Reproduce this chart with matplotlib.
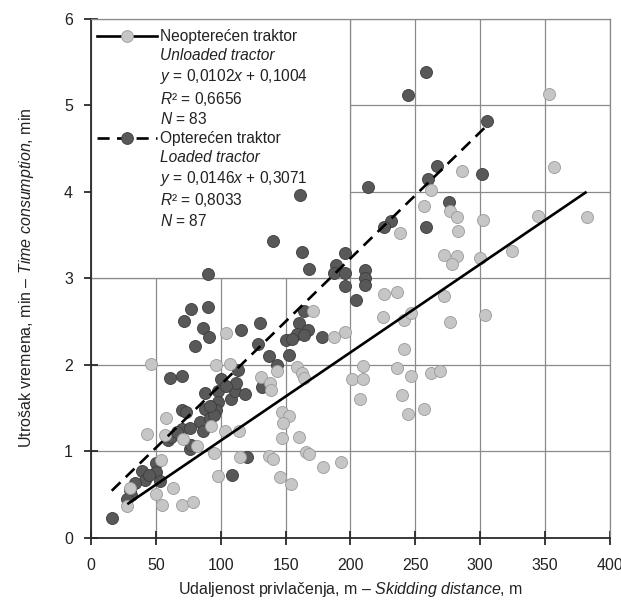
import matplotlib
matplotlib.use("Agg")
import matplotlib.pyplot as plt
from matplotlib.lines import Line2D
from matplotlib.patches import Rectangle
import numpy as np

plt.rcParams["font.family"] = ["Liberation Sans", "DejaVu Sans"]
plt.rcParams["mathtext.fontset"] = "custom"
plt.rcParams["mathtext.it"] = "Liberation Sans:italic"
plt.rcParams["mathtext.rm"] = "Liberation Sans"

# unloaded tractor (light points)
unloaded_x = [104, 46, 96, 107, 58, 43, 57, 71, 82, 92.5, 103, 95, 54, 98, 30, 63, 50, 28, 55, 70, 79,
              171, 196, 187, 131, 138, 139, 143, 159, 163, 164, 210, 201, 210, 207, 114, 147, 153, 148,
              147, 160, 115, 137, 140, 166, 168, 179, 193, 146, 154,
              353, 357, 286, 262, 257, 277, 282, 302, 344.5, 382, 238, 283, 272, 282, 278, 300, 324.5,
              226, 236, 272, 225, 241, 247, 277, 304, 241, 236, 247, 262, 269, 240, 244, 257]
unloaded_y = [2.36, 2.01, 1.99, 2.01, 1.38, 1.20, 1.18, 1.14, 1.06, 1.29, 1.23, 0.98, 0.90, 0.71, 0.57,
              0.57, 0.50, 0.37, 0.38, 0.38, 0.41,
              2.62, 2.38, 2.32, 1.86, 1.79, 1.71, 1.92, 1.97, 1.90, 1.84, 1.98, 1.83, 1.83, 1.60, 1.23,
              1.45, 1.40, 1.32, 1.15, 1.16, 0.93, 0.94, 0.91, 0.99, 0.96, 0.82, 0.87, 0.70, 0.62,
              5.13, 4.28, 4.24, 4.02, 3.83, 3.77, 3.70, 3.67, 3.72, 3.70, 3.52, 3.54, 3.27, 3.25, 3.16,
              3.23, 3.31, 2.82, 2.84, 2.79, 2.55, 2.51, 2.60, 2.49, 2.57, 2.18, 1.96, 1.87, 1.90, 1.92,
              1.65, 1.43, 1.49]

# loaded tractor (dark points)
loaded_x = [90, 77, 90, 72, 86, 91, 80, 61, 70, 100, 88, 98, 98, 108, 111, 88, 96, 70, 73, 84, 92, 94.5,
            70, 76.5, 86, 59, 62, 76, 77, 50, 39, 50, 42, 53, 34, 30, 31, 28, 16, 109,
            161, 213.5, 140, 163, 168, 195.5, 189, 187.5, 196, 211, 211, 211, 195.5, 204.5, 164, 160,
            167, 159, 164, 130, 116, 150, 178,
            129, 153, 137, 143, 113, 112, 118.5, 132, 120,
            258, 244, 305, 267, 260, 301, 276, 231, 226, 258,
            92, 104, 66, 45, 155]
loaded_y = [3.05, 2.64, 2.66, 2.50, 2.42, 2.32, 2.21, 1.85, 1.87, 1.83, 1.67, 1.69, 1.57, 1.60, 1.69,
            1.49, 1.47, 1.47, 1.45, 1.34, 1.38, 1.42, 1.26, 1.27, 1.23, 1.13, 1.16, 1.02, 1.07, 0.86,
            0.77, 0.76, 0.66, 0.65, 0.63, 0.55, 0.49, 0.45, 0.23, 0.72,
            3.96, 4.05, 3.43, 3.30, 3.11, 3.29, 3.15, 3.06, 3.06, 3.09, 3.00, 2.92, 2.91, 2.75, 2.62,
            2.48, 2.40, 2.35, 2.34, 2.48, 2.40, 2.28, 2.32,
            2.24, 2.11, 2.10, 1.99, 1.94, 1.79, 1.66, 1.74, 0.93,
            5.38, 5.12, 4.81, 4.29, 4.15, 4.20, 3.88, 3.66, 3.59, 3.59,
            1.52, 1.75, 1.22, 0.72, 2.30]

unloaded_fit = (0.0102, 0.1004)
loaded_fit = (0.0146, 0.3071)

unloaded_labels = ["Neopterećen traktor", "Unloaded tractor", "$y$ = 0,0102$x$ + 0,1004",
                   "$R$² = 0,6656", "$N$ = 83"]
loaded_labels = ["Opterećen traktor", "Loaded tractor", "$y$ = 0,0146$x$ + 0,3071",
                 "$R$² = 0,8033", "$N$ = 87"]

xticks = [0, 50, 100, 150, 200, 250, 300, 350, 400]
yticks = [0, 1, 2, 3, 4, 5, 6]

light = "#c6c6c6"
light_edge = "#9a9a9a"
dark = "#585858"
dark_edge = "#3c3c3c"
grid_color = "#8a8a8a"
axis_color = "#2a2a2a"
text_color = "#222222"

fig = plt.figure(figsize=(6.21, 6.02), dpi=100)
ax = fig.add_axes([0.1465, 0.1071, 0.8357, 0.8621])

ax.set_xlim(0, 400)
ax.set_ylim(0, 6)
ax.set_xticks(xticks)
ax.set_yticks(yticks)
ax.grid(True, color=grid_color, linewidth=0.9, zorder=0)
ax.set_axisbelow(True)

# blank panel behind the legend
ax.add_patch(Rectangle((0, 3), 200, 3, facecolor="white", edgecolor=grid_color,
                       linewidth=0.9, zorder=1))

ax.scatter(loaded_x, loaded_y, s=75, color=dark, edgecolors=dark_edge, linewidths=0.6, zorder=2)
ax.scatter(unloaded_x, unloaded_y, s=75, color=light, edgecolors=light_edge, linewidths=0.6, zorder=2.5)

xu = np.array([min(unloaded_x), max(unloaded_x)])
ax.plot(xu, unloaded_fit[0] * xu + unloaded_fit[1], color="black", lw=1.9, zorder=3,
        solid_capstyle="butt")
xl = np.array([min(loaded_x), max(loaded_x)])
ax.plot(xl, loaded_fit[0] * xl + loaded_fit[1], color="black", lw=1.9, zorder=3,
        dashes=(4.6, 2.8))

for side in ["left", "bottom"]:
    ax.spines[side].set_color(axis_color)
    ax.spines[side].set_linewidth(1.3)
for side in ["top", "right"]:
    ax.spines[side].set_color(grid_color)
    ax.spines[side].set_linewidth(0.9)

ax.tick_params(direction="inout", length=10, width=1.3, color=axis_color,
               labelsize=11.5, labelcolor=text_color)
ax.tick_params(axis="x", pad=10)
ax.tick_params(axis="y", pad=8)

ax.set_xlabel("Udaljenost privlačenja, m – $\\mathit{Skidding\\ distance}$, m",
              fontsize=11.5, color=text_color, labelpad=5)
ax.set_ylabel("Utrošak vremena, min – $\\mathit{Time\\ consumption}$, min",
              fontsize=11.5, color=text_color, labelpad=20)

blank = Line2D([], [], color="none")
h_unloaded = Line2D([], [], color="black", lw=1.9, marker="o", markersize=8.5,
                    markerfacecolor=light, markeredgecolor=light_edge, markeredgewidth=0.6)
h_loaded = Line2D([], [], color="black", lw=1.9, dashes=(4.6, 2.8), marker="o", markersize=8.5,
                  markerfacecolor=dark, markeredgecolor=dark_edge, markeredgewidth=0.6)
handles = [h_unloaded] + [blank] * 4 + [h_loaded] + [blank] * 4
labels = unloaded_labels + loaded_labels
leg = ax.legend(handles, labels, loc="upper left", bbox_to_anchor=(0.011, 0.979),
                frameon=False, fontsize=11.2, handlelength=3.9, handletextpad=0.15,
                labelspacing=0.24, borderpad=0, borderaxespad=0)
leg.set_zorder(5)
for i, t in enumerate(leg.get_texts()):
    t.set_color(text_color)
    if i in (1, 6):
        t.set_fontstyle("italic")

fig.savefig("out.png", dpi=100)
